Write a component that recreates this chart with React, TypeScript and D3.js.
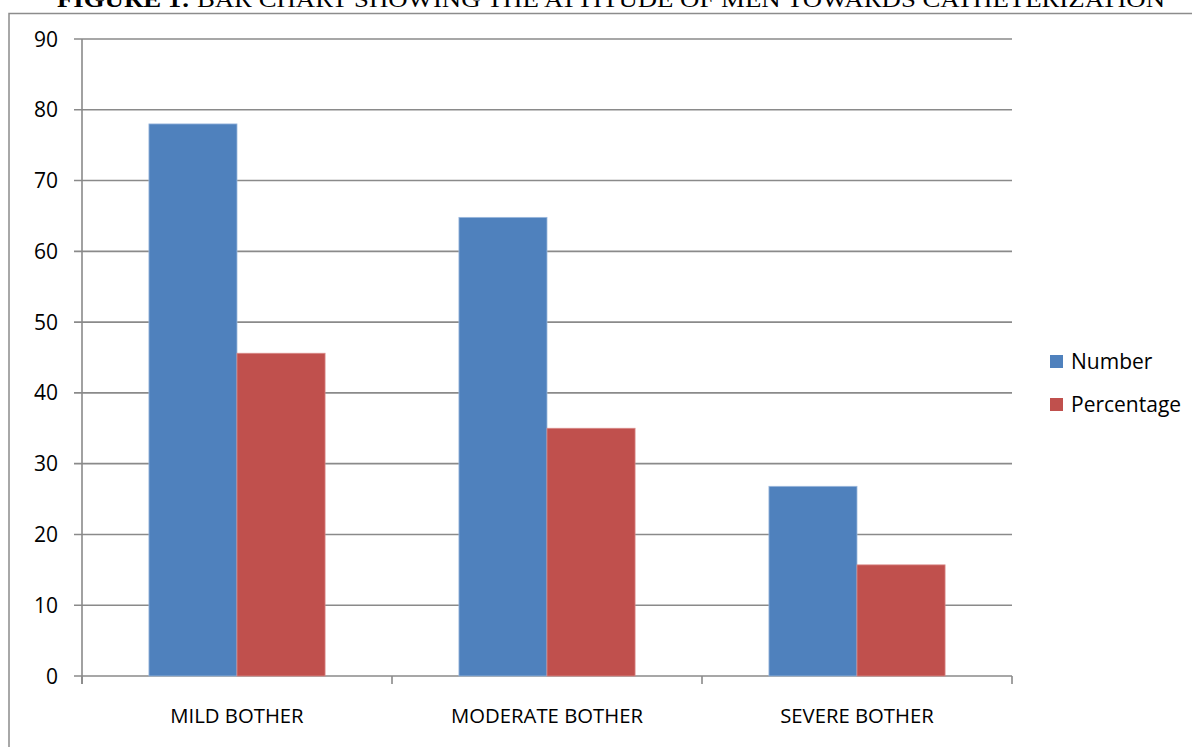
import React from "react";
import * as d3 from "d3";

const categories = ["MILD BOTHER", "MODERATE BOTHER", "SEVERE BOTHER"];
const seriesNames = ["Number", "Percentage"];
const numberValues = [78, 64.8, 26.8];
const percentageValues = [45.6, 35.0, 15.7];
const yTicks = [0, 10, 20, 30, 40, 50, 60, 70, 80, 90];
const colors = ["#4F81BD", "#C0504D"];
const edgeColors = ["#9bb8dd", "#d98a88"];
const titleBold = "FIGURE 1:";
const titleRest = " BAR CHART SHOWING THE ATTITUDE OF MEN TOWARDS CATHETERIZATION";

const W = 1192;
const H = 747;
const left = 82;
const right = 1012;
const top = 39;
const bottom = 676;
const gridColor = "#8a8a8a";
const font = "'Open Sans', 'Noto Sans', sans-serif";

export default function App() {
  const x = d3.scaleBand<string>().domain(categories).range([left, right]).paddingInner(0).paddingOuter(0);
  const inner = d3
    .scaleBand<string>()
    .domain(seriesNames)
    .range([0, x.bandwidth()])
    .paddingInner(0)
    .paddingOuter(0.76);
  const y = d3.scaleLinear().domain([0, 90]).range([bottom, top]);
  const values = [numberValues, percentageValues];
  const boundaries = [...categories.map((c) => x(c) as number), right];

  return (
    <svg
      width={W}
      height={H}
      style={{ position: "absolute", left: 0, top: 0, background: "#fff" }}
    >
      <rect x={0} y={0} width={W} height={H} fill="#fff" />
      <text
        x={57}
        y={7}
        fontFamily="'Liberation Serif', 'Times New Roman', serif"
        fontSize={24}
        textLength={1108}
        lengthAdjust="spacingAndGlyphs"
        fill="#000"
      >
        <tspan fontWeight="bold">{titleBold}</tspan>
        <tspan>{titleRest}</tspan>
      </text>
      <rect x={9} y={13.5} width={W + 20} height={H + 20} fill="none" stroke="#8c8c8c" strokeWidth={1.5} />

      {yTicks.map((t) => (
        <g key={t}>
          <line x1={74} x2={right} y1={y(t)} y2={y(t)} stroke={gridColor} strokeWidth={1.6} />
          <text
            x={58}
            y={y(t)}
            dy="0.36em"
            textAnchor="end"
            fontFamily={font}
            fontSize={21}
            fill="#000"
          >
            {t}
          </text>
        </g>
      ))}
      <line x1={left} x2={left} y1={top} y2={bottom + 8} stroke={gridColor} strokeWidth={1.6} />
      {boundaries.map((b, i) => (
        <line key={i} x1={b} x2={b} y1={bottom} y2={bottom + 8} stroke={gridColor} strokeWidth={1.6} />
      ))}

      {categories.map((c, ci) => (
        <g key={c}>
          {seriesNames.map((s, si) => {
            const bx = (x(c) as number) + (inner(s) as number);
            const by = y(values[si][ci]);
            return (
              <rect
                key={s}
                x={bx}
                y={by}
                width={inner.bandwidth()}
                height={bottom - by}
                fill={colors[si]}
                stroke={edgeColors[si]}
                strokeWidth={0.8}
              />
            );
          })}
          <text
            x={(x(c) as number) + x.bandwidth() / 2}
            y={716}
            dy="0.36em"
            textAnchor="middle"
            fontFamily={font}
            fontSize={20.3}
            fill="#000"
          >
            {c}
          </text>
        </g>
      ))}

      {seriesNames.map((s, si) => (
        <g key={s} transform={`translate(1050, ${355 + si * 43})`}>
          <rect x={0} y={0} width={13} height={13} fill={colors[si]} />
          <text x={21} y={6.5} dy="0.36em" fontFamily={font} fontSize={21} fill="#000">
            {s}
          </text>
        </g>
      ))}
    </svg>
  );
}
